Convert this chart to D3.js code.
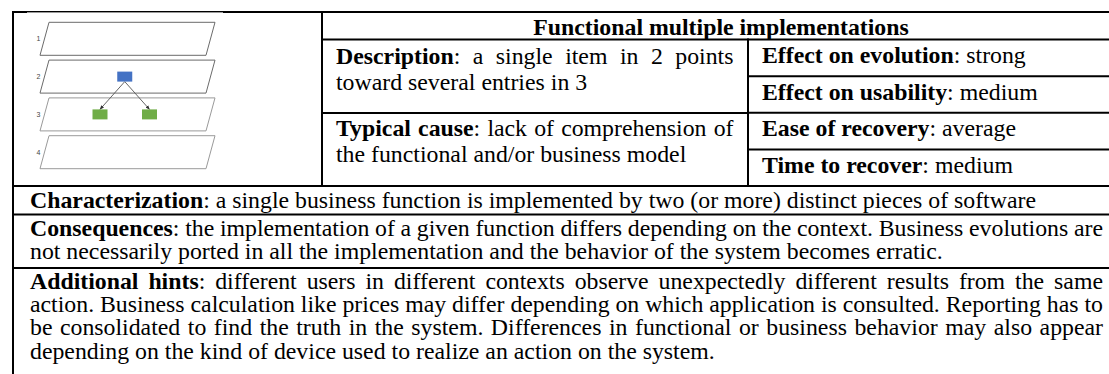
<!DOCTYPE html>
<html>
<head>
<meta charset="utf-8">
<script src="https://cdn.jsdelivr.net/npm/d3@7"></script>
<style>
  html, body { margin: 0; padding: 0; background: #fff; }
  svg { display: block; }
  text { font-family: "Liberation Serif", "Times New Roman", serif; fill: #000; }
</style>
</head>
<body>
<svg id="chart" width="1109" height="374"></svg>
<script>
// ---------------- data ----------------
const title = "Functional multiple implementations";

const layers = ["1", "2", "3", "4"];
const nodeLayers = ["2", "3", "3"];
const nodePositions = [0, -1, 1];
const nodeColors = ["#4472C4", "#70AD47", "#70AD47"];
const edgesFrom = [0, 0];
const edgesTo = [1, 2];

const descLabel = "Description";
const descLines = ["Description: a single item in 2 points", "toward several entries in 3"];
const causeLabel = "Typical cause";
const causeLines = ["Typical cause: lack of comprehension of", "the functional and/or business model"];

const ratingLabels = ["Effect on evolution", "Effect on usability", "Ease of recovery", "Time to recover"];
const ratingValues = ["strong", "medium", "average", "medium"];

const charLabel = "Characterization";
const charLines = ["Characterization: a single business function is implemented by two (or more) distinct pieces of software"];
const consLabel = "Consequences";
const consLines = [
  "Consequences: the implementation of a given function differs depending on the context. Business evolutions are",
  "not necessarily ported in all the implementation and the behavior of the system becomes erratic."
];
const hintsLabel = "Additional hints";
const hintsLines = [
  "Additional hints: different users in different contexts observe unexpectedly different results from the same",
  "action. Business calculation like prices may differ depending on which application is consulted. Reporting has to",
  "be consolidated to find the truth in the system. Differences in functional or business behavior may also appear",
  "depending on the kind of device used to realize an action on the system."
];

// ---------------- layout ----------------
const FS = 23.8;
const LH_T = 26.5, LH_B = 23.4;
const xL = 13, xC1 = 322, xC2 = 748, xR = 1120;
const yT = 12, yHead = 39.5, yMid = 113, yTopEnd = 186, yChar = 214.5, yCons = 268, yEnd = 420;
const padL = 14, padB = 17;

const svg = d3.select("#chart");
svg.append("rect").attr("width", 1109).attr("height", 374).attr("fill", "#fff");

// ---------------- diagram ----------------
const yLayer = d3.scaleBand().domain(layers).range([22.3, 168.7]).paddingInner(0.127).paddingOuter(0);
const xNode = d3.scaleLinear().domain([-1, 1]).range([100, 149.5]);
const skew = 9, layerLeft = 40, layerW = 166;
const diag = svg.append("g");

layers.forEach((l, i) => {
  const t = yLayer(l), b = t + yLayer.bandwidth();
  const pts = [[layerLeft + skew, t], [layerLeft + skew + layerW, t], [layerLeft + layerW, b], [layerLeft, b]];
  diag.append("path")
    .attr("d", d3.line()(pts) + "Z")
    .attr("fill", "#fff")
    .attr("stroke", i < 2 ? "#6b6b6b" : "#9a9a9a")
    .attr("stroke-width", 1);
  diag.append("text")
    .attr("x", layerLeft - 1.5).attr("y", (t + b) / 2 + 2.5)
    .attr("text-anchor", "middle")
    .style("font-family", "'Liberation Sans', Arial, sans-serif")
    .style("font-size", "7px").style("fill", "#444")
    .text(l);
});

const nodeW = 15, nodeH = 10;
const nodeCx = nodePositions.map(p => xNode(p));
const nodeCy = nodeLayers.map(l => yLayer(l) + yLayer.bandwidth() / 2);

const defs = svg.append("defs");
defs.append("marker").attr("id", "arr").attr("viewBox", "0 0 10 10")
  .attr("refX", 9).attr("refY", 5).attr("markerWidth", 5).attr("markerHeight", 5)
  .attr("orient", "auto-start-reverse")
  .append("path").attr("d", "M0,1 L10,5 L0,9 Z").attr("fill", "#333");

edgesFrom.forEach((f, i) => {
  const t = edgesTo[i];
  diag.append("line")
    .attr("x1", nodeCx[f]).attr("y1", nodeCy[f] + nodeH / 2)
    .attr("x2", nodeCx[t]).attr("y2", nodeCy[t] - nodeH / 2)
    .attr("stroke", "#555").attr("stroke-width", 0.9)
    .attr("marker-end", "url(#arr)");
});
nodeCx.forEach((cx, i) => {
  diag.append("rect")
    .attr("x", cx - nodeW / 2).attr("y", nodeCy[i] - nodeH / 2)
    .attr("width", nodeW).attr("height", nodeH)
    .attr("fill", nodeColors[i]);
});

// ---------------- table lines ----------------
const grid = svg.append("g").attr("stroke", "#000").attr("stroke-width", 2).attr("fill", "none");
const yRating = d3.scaleBand().domain(ratingLabels).range([yHead, yTopEnd]);
const hLines = [
  [xL, yT, xR], [xC1, yHead, xR], [xC1, yMid, xC2], [xL, yTopEnd, xR], [xL, yChar, xR], [xL, yCons, xR]
];
ratingLabels.slice(1).forEach(r => hLines.push([xC2, yRating(r), xR]));
hLines.forEach(h => grid.append("line").attr("x1", h[0] - 1).attr("x2", h[2]).attr("y1", h[1]).attr("y2", h[1]));
const vLines = [[xL, yT, yEnd], [xC1, yT, yTopEnd], [xC2, yHead, yTopEnd]];
vLines.forEach(v => grid.append("line").attr("x1", v[0]).attr("x2", v[0]).attr("y1", v[1] - 1).attr("y2", v[2]));
// picture overlapping the top border
svg.append("rect").attr("x", 27).attr("y", 12.4).attr("width", 196).attr("height", 1.2).attr("fill", "#fff");

// ---------------- text ----------------
const txt = svg.append("g").style("font-size", FS + "px");

function wordRuns(line, label, isFirst) {
  const words = line.split(" ");
  const nLab = isFirst ? label.split(" ").length : 0;
  return words.map((w, i) => {
    if (i < nLab) {
      if (i === nLab - 1 && w.endsWith(":")) return [{ t: w.slice(0, -1), b: true }, { t: ":", b: false }];
      return [{ t: w, b: true }];
    }
    return [{ t: w, b: false }];
  });
}

function drawWord(runs, x, y) {
  const t = txt.append("text").attr("x", x).attr("y", y);
  runs.forEach(r => t.append("tspan").style("font-weight", r.b ? "bold" : "normal").text(r.t));
  return t;
}

function drawParagraph(lines, label, x, y0, width, justify, lh) {
  lines.forEach((line, li) => {
    const y = y0 + li * lh;
    const words = wordRuns(line, label, li === 0);
    const nodes = words.map(w => drawWord(w, 0, y));
    const widths = nodes.map(n => n.node().getComputedTextLength());
    const total = d3.sum(widths);
    const last = li === lines.length - 1;
    const gap = (justify && !last && words.length > 1) ? (width - total) / (words.length - 1) : FS * 0.25;
    let cx = x;
    nodes.forEach((n, i) => { n.attr("x", cx); cx += widths[i] + gap; });
  });
}

// header
txt.append("text")
  .attr("x", (xC1 + xR) / 2).attr("y", yT + 23)
  .attr("text-anchor", "middle").style("font-weight", "bold")
  .text(title);

// left sub-cells
drawParagraph(descLines, descLabel, xC1 + padL, yHead + 24, xC2 - xC1 - 2 * padL - 0.5, true, LH_T);
drawParagraph(causeLines, causeLabel, xC1 + padL, yMid + 22.5, xC2 - xC1 - 2 * padL - 0.5, true, LH_T);

// ratings
ratingLabels.forEach((r, i) => {
  drawParagraph([r + ": " + ratingValues[i]], r, xC2 + padL, yRating(r) + 23.5, xR - xC2 - 2 * padL, false, LH_T);
});

// bottom rows
const wB = xR - xL - 2 * padB;
drawParagraph(charLines, charLabel, xL + padB, yTopEnd + 21.5, wB, true, LH_B);
drawParagraph(consLines, consLabel, xL + padB, yChar + 21, wB, true, LH_B);
drawParagraph(hintsLines, hintsLabel, xL + padB, yCons + 20.5, wB, true, LH_B);
</script>
</body>
</html>
